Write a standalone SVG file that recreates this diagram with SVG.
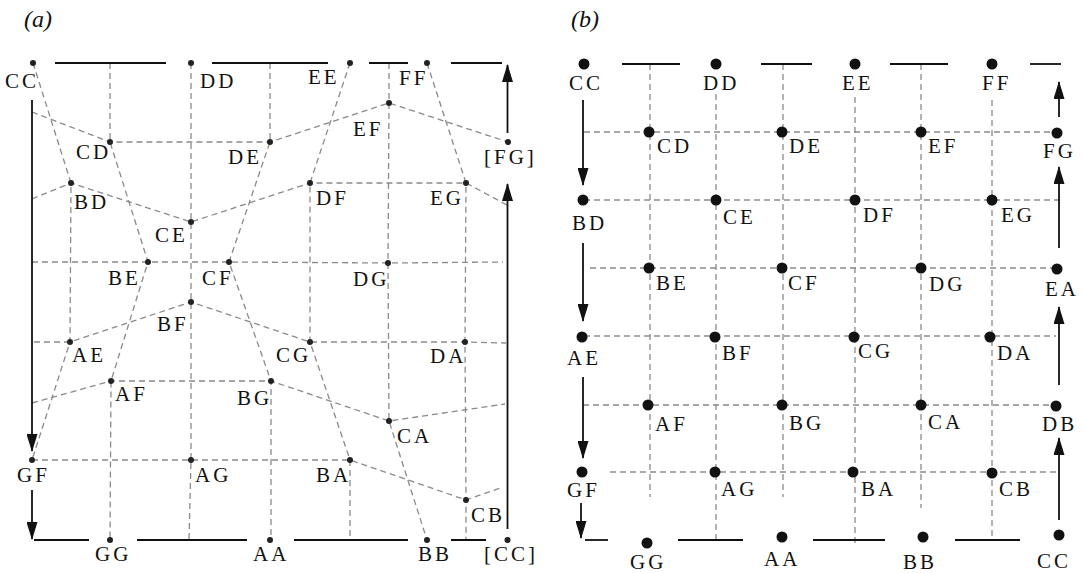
<svg xmlns="http://www.w3.org/2000/svg" width="1084" height="573" viewBox="0 0 1084 573">
<defs>
<style>
.dash{stroke:#8a8a8a;stroke-width:1.3;stroke-dasharray:6 4;fill:none}
.solid{stroke:#111;stroke-width:1.8;fill:none}
.arr{marker-end:url(#ah)}
.lbl{font-family:"Liberation Serif","Times New Roman",serif;font-size:21px;letter-spacing:3px;fill:#111}
.ttl{font-family:"Liberation Serif","Times New Roman",serif;font-size:24px;font-style:italic;fill:#111}
.da{fill:#222}
.db{fill:#111}
</style>
<marker id="ah" viewBox="0 0 18 11" refX="17" refY="5.5" markerWidth="18" markerHeight="11" markerUnits="userSpaceOnUse" orient="auto">
<path d="M0,0 L18,5.5 L0,11 z" fill="#111"/>
</marker>
</defs>
<rect width="1084" height="573" fill="#fff"/>
<text class="ttl" x="24" y="27">(a)</text>
<text class="ttl" x="571" y="27">(b)</text>

<g id="connectors">
<!-- panel a dashed rows -->
<polyline class="dash" points="32,112 110,142 270,142 389,103 508,142"/>
<polyline class="dash" points="32,199 71,183 191,222 310,183 466,183 507,205"/>
<polyline class="dash" points="32,262 148,262 229,262 388,263 503,262"/>
<polyline class="dash" points="34,342 70,342 191,302 310,342 465,342 506,343"/>
<polyline class="dash" points="32,403 111,381 271,381 389,421 505,404"/>
<polyline class="dash" points="32,460 191,460 350,460 466,500 503,487"/>
<!-- panel a dashed columns -->
<polyline class="dash" points="33,63 71,183 70,342 32,460"/>
<polyline class="dash" points="110,63 110,142 148,262 111,381 110,540"/>
<polyline class="dash" points="191,63 191,222 191,302 191,460 189,540"/>
<polyline class="dash" points="270,63 270,142 229,262 271,381 271,540"/>
<polyline class="dash" points="350,63 310,183 310,342 350,460 350,540"/>
<polyline class="dash" points="389,63 389,103 388,263 389,421 427,540"/>
<polyline class="dash" points="427,63 466,183 465,342 466,500 466,540"/>
<!-- panel a solid -->
<line class="solid" x1="55" y1="63" x2="166" y2="63"/>
<line class="solid" x1="212" y1="63" x2="328" y2="63"/>
<line class="solid" x1="369" y1="63" x2="408" y2="63"/>
<line class="solid" x1="451" y1="63" x2="502" y2="63"/>
<line class="solid" x1="34" y1="540" x2="89" y2="540"/>
<line class="solid" x1="137" y1="540" x2="247" y2="540"/>
<line class="solid" x1="294" y1="540" x2="408" y2="540"/>
<line class="solid" x1="451" y1="540" x2="486" y2="540"/>
<line class="solid arr" x1="32" y1="100" x2="32" y2="451"/>
<line class="solid arr" x1="32" y1="490" x2="32" y2="539"/>
<line class="solid arr" x1="507.5" y1="133" x2="507.5" y2="65"/>
<line class="solid arr" x1="507.5" y1="529" x2="507.5" y2="184"/>
<!-- panel b dashed rows -->
<line class="dash" x1="584" y1="132" x2="1053" y2="132"/>
<line class="dash" x1="584" y1="200" x2="1060" y2="200"/>
<line class="dash" x1="590" y1="268" x2="1057" y2="268"/>
<line class="dash" x1="584" y1="336" x2="1056" y2="336"/>
<line class="dash" x1="583" y1="405" x2="1056" y2="405"/>
<line class="dash" x1="610" y1="472" x2="1057" y2="472"/>
<!-- panel b dashed columns -->
<line class="dash" x1="650" y1="64" x2="650" y2="497"/>
<line class="dash" x1="716" y1="94" x2="716" y2="540"/>
<line class="dash" x1="783" y1="64" x2="783" y2="497"/>
<line class="dash" x1="855" y1="97" x2="855" y2="545"/>
<line class="dash" x1="921" y1="64" x2="921" y2="508"/>
<line class="dash" x1="992" y1="100" x2="992" y2="540"/>
<!-- panel b solid -->
<line class="solid" x1="622" y1="64" x2="680" y2="64"/>
<line class="solid" x1="761" y1="64" x2="812" y2="64"/>
<line class="solid" x1="890" y1="64" x2="948" y2="64"/>
<line class="solid" x1="1030" y1="64" x2="1061" y2="64"/>
<line class="solid" x1="585" y1="540" x2="608" y2="540"/>
<line class="solid" x1="678" y1="540" x2="743" y2="540"/>
<line class="solid" x1="813" y1="540" x2="885" y2="540"/>
<line class="solid" x1="955" y1="540" x2="1020" y2="540"/>
<line class="solid arr" x1="583" y1="100" x2="583" y2="185"/>
<line class="solid arr" x1="583" y1="243" x2="583" y2="321"/>
<line class="solid arr" x1="583" y1="377" x2="583" y2="458"/>
<line class="solid arr" x1="581" y1="503" x2="581" y2="538"/>
<line class="solid arr" x1="1059" y1="117" x2="1059" y2="82"/>
<line class="solid arr" x1="1059" y1="248" x2="1059" y2="167"/>
<line class="solid arr" x1="1059" y1="385" x2="1059" y2="307"/>
<line class="solid arr" x1="1059" y1="520" x2="1059" y2="438"/>
</g>

<!-- panel a nodes -->
<g id="a-CC"><circle class="da" cx="33" cy="63" r="3"/><text class="lbl" x="5" y="88">CC</text></g>
<g id="a-DD"><circle class="da" cx="191" cy="63" r="3"/><text class="lbl" x="200" y="88">DD</text></g>
<g id="a-EE"><circle class="da" cx="350" cy="63" r="3"/><text class="lbl" x="308" y="84">EE</text></g>
<g id="a-FF"><circle class="da" cx="427" cy="63" r="3"/><text class="lbl" x="399" y="85">FF</text></g>
<g id="a-FG"><circle class="da" cx="508" cy="142" r="3"/><text class="lbl" x="484" y="164">[FG]</text></g>
<g id="a-CD"><circle class="da" cx="110" cy="142" r="3"/><text class="lbl" x="76" y="159">CD</text></g>
<g id="a-DE"><circle class="da" cx="270" cy="142" r="3"/><text class="lbl" x="228" y="164">DE</text></g>
<g id="a-EF"><circle class="da" cx="389" cy="103" r="3"/><text class="lbl" x="353" y="136">EF</text></g>
<g id="a-BD"><circle class="da" cx="71" cy="183" r="3"/><text class="lbl" x="74" y="209">BD</text></g>
<g id="a-DF"><circle class="da" cx="310" cy="183" r="3"/><text class="lbl" x="316" y="205">DF</text></g>
<g id="a-EG"><circle class="da" cx="466" cy="183" r="3"/><text class="lbl" x="430" y="205">EG</text></g>
<g id="a-CE"><circle class="da" cx="191" cy="222" r="3"/><text class="lbl" x="155" y="242">CE</text></g>
<g id="a-BE"><circle class="da" cx="148" cy="262" r="3"/><text class="lbl" x="108" y="285">BE</text></g>
<g id="a-CF"><circle class="da" cx="229" cy="262" r="3"/><text class="lbl" x="202" y="285">CF</text></g>
<g id="a-DG"><circle class="da" cx="388" cy="263" r="3"/><text class="lbl" x="353" y="286">DG</text></g>
<g id="a-BF"><circle class="da" cx="191" cy="302" r="3"/><text class="lbl" x="157" y="331">BF</text></g>
<g id="a-AE"><circle class="da" cx="70" cy="342" r="3"/><text class="lbl" x="72" y="362">AE</text></g>
<g id="a-CG"><circle class="da" cx="310" cy="342" r="3"/><text class="lbl" x="276" y="362">CG</text></g>
<g id="a-DA"><circle class="da" cx="465" cy="342" r="3"/><text class="lbl" x="430" y="363">DA</text></g>
<g id="a-AF"><circle class="da" cx="111" cy="381" r="3"/><text class="lbl" x="115" y="401">AF</text></g>
<g id="a-BG"><circle class="da" cx="271" cy="381" r="3"/><text class="lbl" x="237" y="405">BG</text></g>
<g id="a-CA"><circle class="da" cx="389" cy="421" r="3"/><text class="lbl" x="397" y="443">CA</text></g>
<g id="a-GF"><circle class="da" cx="32" cy="460" r="3"/><text class="lbl" x="17" y="482">GF</text></g>
<g id="a-AG"><circle class="da" cx="191" cy="460" r="3"/><text class="lbl" x="195" y="482">AG</text></g>
<g id="a-BA"><circle class="da" cx="350" cy="460" r="3"/><text class="lbl" x="316" y="482">BA</text></g>
<g id="a-CB"><circle class="da" cx="466" cy="500" r="3"/><text class="lbl" x="471" y="522">CB</text></g>
<g id="a-GG"><circle class="da" cx="110" cy="540" r="3"/><text class="lbl" x="95" y="561">GG</text></g>
<g id="a-AA"><circle class="da" cx="270" cy="540" r="3"/><text class="lbl" x="253" y="561">AA</text></g>
<g id="a-BB"><circle class="da" cx="427" cy="540" r="3"/><text class="lbl" x="418" y="561">BB</text></g>
<g id="a-CC2"><circle class="da" cx="507.5" cy="540" r="3"/><text class="lbl" x="484" y="561">[CC]</text></g>

<!-- panel b nodes -->
<g id="b-CC"><circle class="db" cx="584" cy="64" r="5.5"/><text class="lbl" x="569" y="90">CC</text></g>
<g id="b-DD"><circle class="db" cx="716" cy="64" r="5.5"/><text class="lbl" x="703" y="90">DD</text></g>
<g id="b-EE"><circle class="db" cx="855" cy="64" r="5.5"/><text class="lbl" x="842" y="90">EE</text></g>
<g id="b-FF"><circle class="db" cx="992" cy="64" r="5.5"/><text class="lbl" x="982" y="90">FF</text></g>
<g id="b-CD"><circle class="db" cx="649" cy="132" r="5.5"/><text class="lbl" x="657" y="153">CD</text></g>
<g id="b-DE"><circle class="db" cx="782" cy="132" r="5.5"/><text class="lbl" x="789" y="153">DE</text></g>
<g id="b-EF"><circle class="db" cx="921" cy="132" r="5.5"/><text class="lbl" x="928" y="153">EF</text></g>
<g id="b-FG"><circle class="db" cx="1057" cy="133" r="5.5"/><text class="lbl" x="1043" y="158">FG</text></g>
<g id="b-BD"><circle class="db" cx="583" cy="200" r="5.5"/><text class="lbl" x="572" y="230">BD</text></g>
<g id="b-CE"><circle class="db" cx="716" cy="200" r="5.5"/><text class="lbl" x="723" y="224">CE</text></g>
<g id="b-DF"><circle class="db" cx="855" cy="200" r="5.5"/><text class="lbl" x="863" y="222">DF</text></g>
<g id="b-EG"><circle class="db" cx="992" cy="200" r="5.5"/><text class="lbl" x="1001" y="222">EG</text></g>
<g id="b-BE"><circle class="db" cx="649" cy="268" r="5.5"/><text class="lbl" x="656" y="290">BE</text></g>
<g id="b-CF"><circle class="db" cx="782" cy="268" r="5.5"/><text class="lbl" x="788" y="290">CF</text></g>
<g id="b-DG"><circle class="db" cx="921" cy="268" r="5.5"/><text class="lbl" x="929" y="291">DG</text></g>
<g id="b-EA"><circle class="db" cx="1057" cy="269" r="5.5"/><text class="lbl" x="1045" y="296">EA</text></g>
<g id="b-AE"><circle class="db" cx="582" cy="337" r="5.5"/><text class="lbl" x="567" y="365">AE</text></g>
<g id="b-BF"><circle class="db" cx="715" cy="337" r="5.5"/><text class="lbl" x="722" y="360">BF</text></g>
<g id="b-CG"><circle class="db" cx="854" cy="337" r="5.5"/><text class="lbl" x="858" y="358">CG</text></g>
<g id="b-DA"><circle class="db" cx="990" cy="337" r="5.5"/><text class="lbl" x="997" y="360">DA</text></g>
<g id="b-AF"><circle class="db" cx="648" cy="405" r="5.5"/><text class="lbl" x="655" y="431">AF</text></g>
<g id="b-BG"><circle class="db" cx="782" cy="405" r="5.5"/><text class="lbl" x="789" y="430">BG</text></g>
<g id="b-CA"><circle class="db" cx="921" cy="405" r="5.5"/><text class="lbl" x="928" y="429">CA</text></g>
<g id="b-DB"><circle class="db" cx="1056" cy="406" r="5.5"/><text class="lbl" x="1042" y="431">DB</text></g>
<g id="b-GF"><circle class="db" cx="582" cy="472" r="5.5"/><text class="lbl" x="567" y="497">GF</text></g>
<g id="b-AG"><circle class="db" cx="715" cy="472" r="5.5"/><text class="lbl" x="721" y="496">AG</text></g>
<g id="b-BA"><circle class="db" cx="853" cy="472" r="5.5"/><text class="lbl" x="861" y="496">BA</text></g>
<g id="b-CB"><circle class="db" cx="992" cy="473" r="5.5"/><text class="lbl" x="999" y="496">CB</text></g>
<g id="b-GG"><circle class="db" cx="647" cy="543" r="5.5"/><text class="lbl" x="630" y="569">GG</text></g>
<g id="b-AA"><circle class="db" cx="782" cy="537" r="5.5"/><text class="lbl" x="764" y="566">AA</text></g>
<g id="b-BB"><circle class="db" cx="923" cy="537" r="5.5"/><text class="lbl" x="903" y="569">BB</text></g>
<g id="b-CC2"><circle class="db" cx="1059" cy="535" r="5.5"/><text class="lbl" x="1037" y="568">CC</text></g>
</svg>
